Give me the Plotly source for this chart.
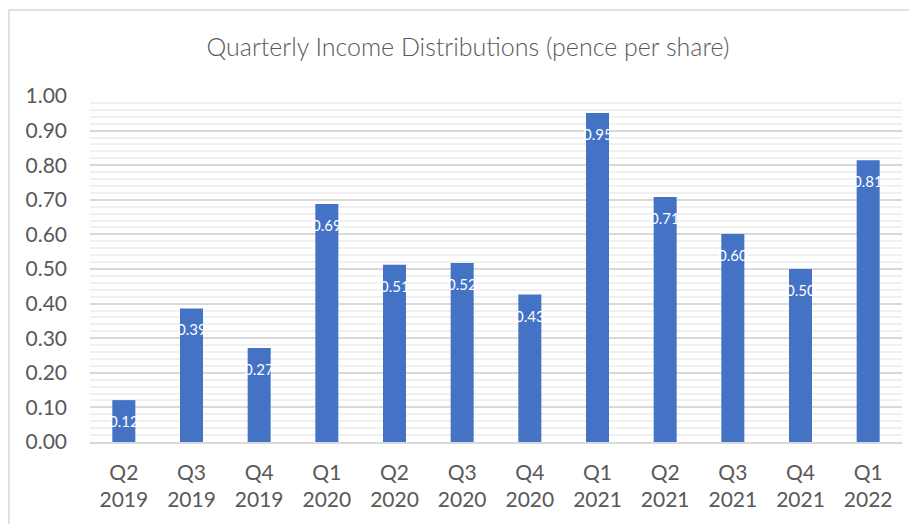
import plotly.graph_objects as go

quarters = ["Q2", "Q3", "Q4", "Q1", "Q2", "Q3", "Q4", "Q1", "Q2", "Q3", "Q4", "Q1"]
years = ["2019", "2019", "2019", "2020", "2020", "2020", "2020", "2021", "2021", "2021", "2021", "2022"]
values = [0.121, 0.386, 0.272, 0.688, 0.512, 0.517, 0.426, 0.951, 0.708, 0.601, 0.500, 0.814]
labels = ["0.12", "0.39", "0.27", "0.69", "0.51", "0.52", "0.43", "0.95", "0.71", "0.60", "0.50", "0.81"]
y_ticks = [0.0, 0.1, 0.2, 0.3, 0.4, 0.5, 0.6, 0.7, 0.8, 0.9, 1.0]

cats = [f"{q}<br>{y}" for q, y in zip(quarters, years)]
xs = list(range(len(cats)))

FONT = "Lato"
GRAY = "#595959"
BLUE = "#4472C4"

W, H = 909, 516
L, R, T, B = 82, 15, 88, 82
PW, PH = W - L - R, H - T - B

fig = go.Figure()
fig.add_trace(go.Bar(
    x=xs, y=values,
    marker=dict(color=BLUE, line=dict(width=0)),
    hoverinfo="skip",
))

annotations = []
for x, v, t in zip(xs, values, labels):
    annotations.append(dict(
        x=x, y=v, xref="x", yref="y", text=t, showarrow=False,
        yanchor="middle", xanchor="center", yshift=-21,
        font=dict(family=FONT, size=15, color="white"),
    ))

fig.update_layout(
    width=W, height=H,
    margin=dict(l=L, r=R, t=T, b=B, autoexpand=False),
    paper_bgcolor="white", plot_bgcolor="white",
    bargap=0.66,
    showlegend=False,
    title=dict(
        text="Quarterly Income Distributions (pence per share)",
        x=460 / W, xref="container", xanchor="center",
        y=1 - 39 / H, yref="container", yanchor="middle",
        font=dict(family=FONT, size=25, color=GRAY, weight=300),
    ),
    annotations=annotations,
    shapes=[dict(
        type="rect", xref="paper", yref="paper",
        x0=(1 - L) / PW, x1=(W - 1 - L) / PW,
        y0=-0.3, y1=1 + (T - 2) / PH,
        line=dict(color="#d9d9d9", width=1.5), fillcolor="rgba(0,0,0,0)",
        layer="below",
    )],
)

fig.update_xaxes(
    tickmode="array", tickvals=xs, ticktext=cats,
    range=[-0.5, len(cats) - 0.5],
    automargin=False,
    showgrid=False, zeroline=False,
    showline=True, linecolor="#d9d9d9", linewidth=1.5,
    ticks="", ticklabelstandoff=11,
    tickfont=dict(family=FONT, size=21, color=GRAY),
)
fig.update_yaxes(
    range=[0, 1.0], tickmode="array", tickvals=y_ticks,
    ticktext=[f"{v:.2f}" for v in y_ticks],
    automargin=False,
    showgrid=True, gridcolor="#d9d9d9", gridwidth=1.5,
    zeroline=False, showline=False, ticks="",
    ticklabelstandoff=22,
    tickfont=dict(family=FONT, size=21, color=GRAY),
    minor=dict(dtick=0.02, tick0=0, showgrid=True, gridcolor="#f0f0f0", gridwidth=1.5),
)

fig.write_html("out.html")
